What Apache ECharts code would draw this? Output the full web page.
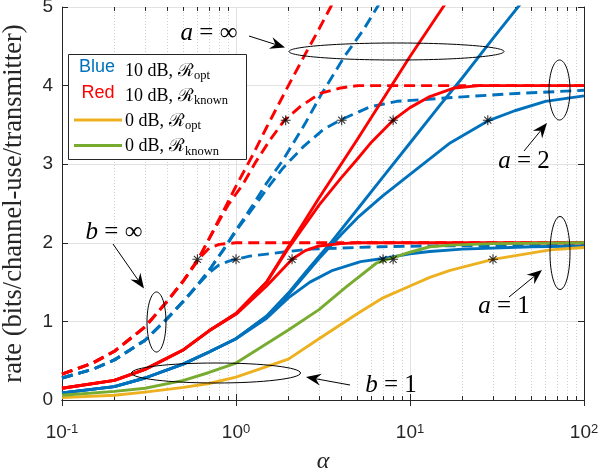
<!DOCTYPE html>
<html><head><meta charset="utf-8">
<script src="https://cdn.jsdelivr.net/npm/echarts@6/dist/echarts.min.js"></script>
<style>html,body{margin:0;padding:0;background:#fff}#c{width:602px;height:475px}</style>
</head><body><div id="c"></div>
<script>
// ---------- data ----------
const xTicks = [0.1, 1, 10, 100];
const yTicks = [0, 1, 2, 3, 4, 5];
const minorX = [0.2,0.3,0.4,0.5,0.6,0.7,0.8,0.9,2,3,4,5,6,7,8,9,20,30,40,50,60,70,80,90];

// 10 dB, R_opt (blue), b = inf (dashed)
const blueDashAinf = [[0.1,0.28],[0.15,0.39],[0.2,0.51],[0.3,0.76],[0.4,1.03],[0.5,1.26],[0.6,1.46],[0.7,1.65],[0.84,1.9],[1.0,2.16],[1.25,2.48],[1.5,2.76],[1.86,3.05],[2.5,3.52],[3.04,3.86],[4.2,4.37],[5.4,4.71],[6.7,5.05]];
const blueDashA2 = [[0.1,0.28],[0.15,0.39],[0.2,0.51],[0.3,0.76],[0.4,1.03],[0.5,1.26],[0.6,1.46],[0.7,1.65],[0.84,1.9],[1.0,2.15],[1.25,2.44],[1.5,2.68],[1.86,2.95],[2.43,3.22],[3.17,3.44],[4.05,3.57],[5.9,3.73],[8.4,3.8],[21,3.86],[41,3.9],[100,3.94]];
const blueDashA1 = [[0.1,0.28],[0.15,0.39],[0.2,0.51],[0.3,0.76],[0.4,1.03],[0.5,1.26],[0.6,1.46],[0.7,1.62],[0.8,1.72],[0.92,1.77],[1.0,1.79],[1.2,1.83],[2,1.89],[2.66,1.92],[6.7,1.95],[13,1.96],[100,1.97]];
// 10 dB, R_known (red), b = inf (dashed)
const redDashAinf = [[0.1,0.33],[0.15,0.47],[0.2,0.62],[0.3,0.93],[0.4,1.25],[0.5,1.52],[0.6,1.77],[0.7,2.05],[0.8,2.3],[1.0,2.72],[1.25,3.12],[1.5,3.47],[2,4.0],[2.5,4.4],[3,4.72],[3.5,5.0],[4,5.24]];
const redDashA2 = [[0.1,0.33],[0.15,0.47],[0.2,0.62],[0.3,0.93],[0.4,1.25],[0.5,1.52],[0.6,1.77],[0.7,2.05],[0.8,2.28],[0.9,2.48],[1.1,2.75],[1.3,3.03],[1.57,3.31],[1.9,3.56],[2.33,3.73],[3.04,3.9],[4,3.97],[5,4.0],[100,4.0]];
const redDashA1 = [[0.1,0.33],[0.15,0.47],[0.2,0.62],[0.3,0.93],[0.4,1.25],[0.5,1.52],[0.6,1.78],[0.7,1.93],[0.8,1.98],[1,2.0],[100,2.0]];
// 10 dB, R_known (red), b = 1 (solid)
const redSolidAinf = [[0.1,0.15],[0.2,0.25],[0.3,0.39],[0.5,0.64],[0.7,0.88],[1,1.1],[1.5,1.5],[2,1.95],[3,2.57],[5,3.32],[7,3.83],[10,4.37],[15.5,5.0],[20,5.38]];
const redSolidA2 = [[0.1,0.15],[0.2,0.25],[0.3,0.39],[0.5,0.64],[0.7,0.88],[1,1.1],[1.5,1.5],[2,1.93],[3,2.48],[4,2.82],[5,3.07],[6,3.28],[8,3.56],[10,3.72],[13,3.86],[18,3.97],[25,4.0],[100,4.0]];
const redSolidA1 = [[0.1,0.15],[0.2,0.25],[0.3,0.39],[0.5,0.64],[0.7,0.88],[1,1.09],[1.5,1.45],[2.1,1.79],[2.5,1.9],[3,1.96],[4,1.99],[5,2.0],[100,2.0]];
// 10 dB, R_opt (blue), b = 1 (solid)
const blueSolidAinf = [[0.1,0.09],[0.2,0.17],[0.3,0.28],[0.5,0.46],[0.7,0.61],[1,0.78],[1.5,1.07],[2,1.36],[2.5,1.62],[3.5,2.0],[5,2.43],[7,2.84],[10,3.27],[15,3.76],[20,4.1],[30,4.6],[45,5.09]];
const blueSolidA2 = [[0.1,0.09],[0.2,0.17],[0.3,0.28],[0.5,0.46],[0.7,0.61],[1,0.78],[1.5,1.06],[2,1.34],[3,1.8],[4,2.1],[5,2.32],[7,2.6],[10,2.87],[17,3.27],[28,3.55],[40,3.68],[60,3.8],[100,3.87]];
const blueSolidA1 = [[0.1,0.09],[0.2,0.17],[0.3,0.28],[0.5,0.46],[0.7,0.61],[1,0.78],[1.5,1.04],[2,1.3],[2.66,1.5],[3.6,1.65],[5.2,1.76],[7,1.8],[10,1.86],[13,1.89],[20,1.92],[50,1.95],[100,1.96]];
// 0 dB curves
const greenKnown = [[0.1,0.06],[0.2,0.11],[0.3,0.15],[0.5,0.25],[0.7,0.35],[1,0.47],[2,0.89],[3,1.15],[4.3,1.44],[6.4,1.74],[8,1.81],[10,1.88],[13,1.95],[17,1.97],[30,1.99],[100,2.0]];
const yellowOpt = [[0.1,0.03],[0.2,0.06],[0.3,0.1],[0.5,0.16],[0.7,0.21],[1,0.29],[2,0.52],[3,0.78],[5,1.1],[7,1.3],[10,1.45],[13,1.56],[17,1.65],[30,1.79],[64,1.91],[100,1.94]];
// asterisk markers
const stars = [[0.6,1.79],[1.0,1.79],[2.1,1.79],[7,1.79],[8,1.79],[30,1.79],[1.93,3.56],[4.05,3.56],[8,3.56],[28,3.56]];

// ---------- styling ----------
const BLUE = '#0072BD', RED = '#FF0000', YELLOW = '#EDB120', GREEN = '#77AC30', AX = '#262626';
const SERIF = 'Liberation Serif, DejaVu Serif, serif';
const SANS = 'Liberation Sans, Arial, sans-serif';
const LW = 2.9, DASH = [11, 6];

function ln(data, color, dashed) {
  return { type: 'line', data, symbol: 'none', clip: true, z: 3, silent: true,
    lineStyle: { color, width: LW, type: dashed ? DASH : 'solid', cap: 'butt', join: 'round' } };
}
function asteriskPath() {
  const L = 10, w = 1.1; let d = '';
  for (const ang of [0, 45, 90, 135]) {
    const a = ang * Math.PI / 180, c = Math.cos(a), s = Math.sin(a);
    const pts = [[-L,-w],[L,-w],[L,w],[-L,w]].map(([x,y]) => [x*c - y*s, x*s + y*c]);
    d += 'M' + pts.map(p => p[0].toFixed(3) + ' ' + p[1].toFixed(3)).join(' L') + ' Z ';
  }
  return 'path://' + d;
}
const TICKLEN = 0.05;

const chart = echarts.init(document.getElementById('c'), null, { renderer: 'canvas' });
const option = {
  animation: false,
  backgroundColor: '#fff',
  grid: { left: 62, top: 7, right: 18, bottom: 75, containLabel: false, outerBoundsMode: 'none' },
  xAxis: [{
    type: 'log', logBase: 10, min: 0.1, max: 100, position: 'bottom',
    axisLine: { show: true, lineStyle: { color: AX, width: 1 } },
    axisTick: { show: true, inside: true, length: 6, lineStyle: { color: AX } },
    splitLine: { show: true, lineStyle: { color: '#e2e2e2', width: 1 } },
    axisLabel: {
      margin: 23,
      formatter: v => { const e = Math.round(Math.log10(v)); return '{b|10}{s|' + (e < 0 ? '-' + (-e) : e) + '}'; },
      rich: { b: { fontSize: 19, fontFamily: SANS, color: AX }, s: { fontSize: 13, fontFamily: SANS, color: AX, verticalAlign: 'top' } }
    },
    name: 'α', nameLocation: 'middle', nameGap: 50,
    nameTextStyle: { fontFamily: SERIF, fontStyle: 'italic', fontSize: 24, color: AX }
  }, {
    type: 'log', logBase: 10, min: 0.1, max: 100, position: 'top',
    axisLine: { show: true, lineStyle: { color: AX, width: 1 } },
    axisTick: { show: true, inside: true, length: 6, lineStyle: { color: AX } },
    axisLabel: { show: false }, splitLine: { show: false }
  }],
  yAxis: [{
    type: 'value', min: 0, max: 5, interval: 1, position: 'left',
    axisLine: { show: true, lineStyle: { color: AX, width: 1 } },
    axisTick: { show: true, inside: true, length: 6, lineStyle: { color: AX } },
    splitLine: { show: true, lineStyle: { color: '#e2e2e2', width: 1 } },
    axisLabel: { fontSize: 19, fontFamily: SANS, color: AX, margin: 9 },
    name: 'rate (bits/channel-use/transmitter)', nameLocation: 'middle', nameGap: 34, nameRotate: 90,
    nameTextStyle: { fontFamily: SERIF, fontSize: 26.5, color: AX }
  }, {
    type: 'value', min: 0, max: 5, interval: 1, position: 'right',
    axisLine: { show: true, lineStyle: { color: AX, width: 1 } },
    axisTick: { show: true, inside: true, length: 6, lineStyle: { color: AX } },
    axisLabel: { show: false }, splitLine: { show: false }
  }],
  series: [
    { type: 'line', data: [], silent: true,
      markLine: { silent: true, symbol: 'none', z: 0, animation: false, label: { show: false },
        lineStyle: { color: '#cfcfcf', type: [1, 2], width: 1 },
        data: minorX.map(v => ({ xAxis: v })) } },
    { type: 'line', data: [], silent: true,
      markLine: { silent: true, symbol: 'none', z: 1, animation: false, label: { show: false },
        lineStyle: { color: AX, type: 'solid', width: 1 },
        data: minorX.flatMap(v => [
          [{ coord: [v, 0] }, { coord: [v, TICKLEN] }],
          [{ coord: [v, 5] }, { coord: [v, 5 - TICKLEN] }]
        ]) } },
    ln(blueDashAinf, BLUE, true), ln(blueDashA2, BLUE, true), ln(blueDashA1, BLUE, true),
    ln(redDashAinf, RED, true), ln(redDashA2, RED, true), ln(redDashA1, RED, true),
    ln(blueSolidAinf, BLUE, false), ln(blueSolidA2, BLUE, false), ln(blueSolidA1, BLUE, false),
    ln(redSolidAinf, RED, false), ln(redSolidA2, RED, false), ln(redSolidA1, RED, false),
    ln(yellowOpt, YELLOW, false), ln(greenKnown, GREEN, false),
    { type: 'scatter', data: stars, symbol: asteriskPath(), symbolSize: 10, z: 6, silent: true,
      itemStyle: { color: '#000' } }
  ]
};
chart.setOption(option);

// ---------- annotations & legend (graphic) ----------
const ctx = document.createElement('canvas').getContext('2d');
function tw(text, font) { ctx.font = font; return ctx.measureText(text).width; }

function arrow(x1, y1, x2, y2) {
  const dx = x2 - x1, dy = y2 - y1, L = Math.hypot(dx, dy), ux = dx / L, uy = dy / L, px = -uy, py = ux;
  const hl = 15, hw = 6, back = 10;
  const bx = x2 - ux * hl, by = y2 - uy * hl;
  const nx = x2 - ux * back, ny = y2 - uy * back;
  return [
    { type: 'line', z: 100, shape: { x1, y1, x2: nx, y2: ny }, style: { stroke: '#000', lineWidth: 1 } },
    { type: 'polygon', z: 100, shape: { points: [[x2, y2], [bx + px * hw, by + py * hw], [nx, ny], [bx - px * hw, by - py * hw]] }, style: { fill: '#000' } }
  ];
}
function ell(cx, cy, rx, ry) {
  return { type: 'ellipse', z: 100, shape: { cx, cy, rx, ry }, style: { fill: 'none', stroke: '#000', lineWidth: 1 } };
}
function mathText(x, y, v, rest) {
  return { type: 'text', z: 100, x, y, style: {
    text: '{i|' + v + '}{n|' + rest + '}', align: 'center', verticalAlign: 'middle',
    rich: { i: { fontFamily: SERIF, fontStyle: 'italic', fontSize: 25, fill: '#000' },
            n: { fontFamily: SERIF, fontSize: 25, fill: '#000' } } } };
}
function legendRow(x, y, main, sub) {
  const f = '18px ' + SERIF;
  const w = tw(main, f);
  return [
    { type: 'text', z: 201, x, y, style: { text: main, fontFamily: SERIF, fontSize: 18, fill: '#000', align: 'left', verticalAlign: 'middle' } },
    { type: 'text', z: 201, x: x + w + 0.5, y: y + 5, style: { text: sub, fontFamily: SERIF, fontSize: 12.5, fill: '#000', align: 'left', verticalAlign: 'middle' } }
  ];
}

const g = [];
g.push(mathText(209, 33, 'a', ' = ∞'));
g.push(...arrow(249, 36, 285, 47.5));
g.push(ell(396.5, 51.5, 107.5, 8.5));
g.push(mathText(524, 161, 'a', ' = 2'));
g.push(...arrow(524, 151, 547, 123));
g.push(ell(559.5, 90, 10.5, 30));
g.push(mathText(504, 306, 'a', ' = 1'));
g.push(...arrow(509, 297, 542, 270));
g.push(ell(560, 253, 10, 36.5));
g.push(mathText(114, 232, 'b', ' = ∞'));
g.push(...arrow(113, 244, 144, 288.5));
g.push(ell(156.5, 322, 9.5, 30));
g.push(mathText(391, 385, 'b', ' = 1'));
g.push(...arrow(350, 385, 306, 377));
g.push(ell(216, 373, 84.5, 10));

// legend box
g.push({ type: 'rect', z: 200, shape: { x: 68.5, y: 54.5, width: 178, height: 105 }, style: { fill: '#fff', stroke: AX, lineWidth: 1 } });
g.push({ type: 'text', z: 201, x: 97, y: 67, style: { text: 'Blue', fontFamily: SANS, fontSize: 18, fill: BLUE, align: 'center', verticalAlign: 'middle' } });
g.push({ type: 'text', z: 201, x: 98, y: 93, style: { text: 'Red', fontFamily: SANS, fontSize: 18, fill: RED, align: 'center', verticalAlign: 'middle' } });
g.push({ type: 'line', z: 201, shape: { x1: 74, y1: 120, x2: 122, y2: 120 }, style: { stroke: YELLOW, lineWidth: LW } });
g.push({ type: 'line', z: 201, shape: { x1: 74, y1: 145.5, x2: 122, y2: 145.5 }, style: { stroke: GREEN, lineWidth: LW } });
g.push(...legendRow(125, 71, '10 dB, ℛ', 'opt'));
g.push(...legendRow(125, 96, '10 dB, ℛ', 'known'));
g.push(...legendRow(125, 121, '0 dB, ℛ', 'opt'));
g.push(...legendRow(125, 146.5, '0 dB, ℛ', 'known'));

chart.setOption({ graphic: { elements: g } });
</script>
</body></html>
